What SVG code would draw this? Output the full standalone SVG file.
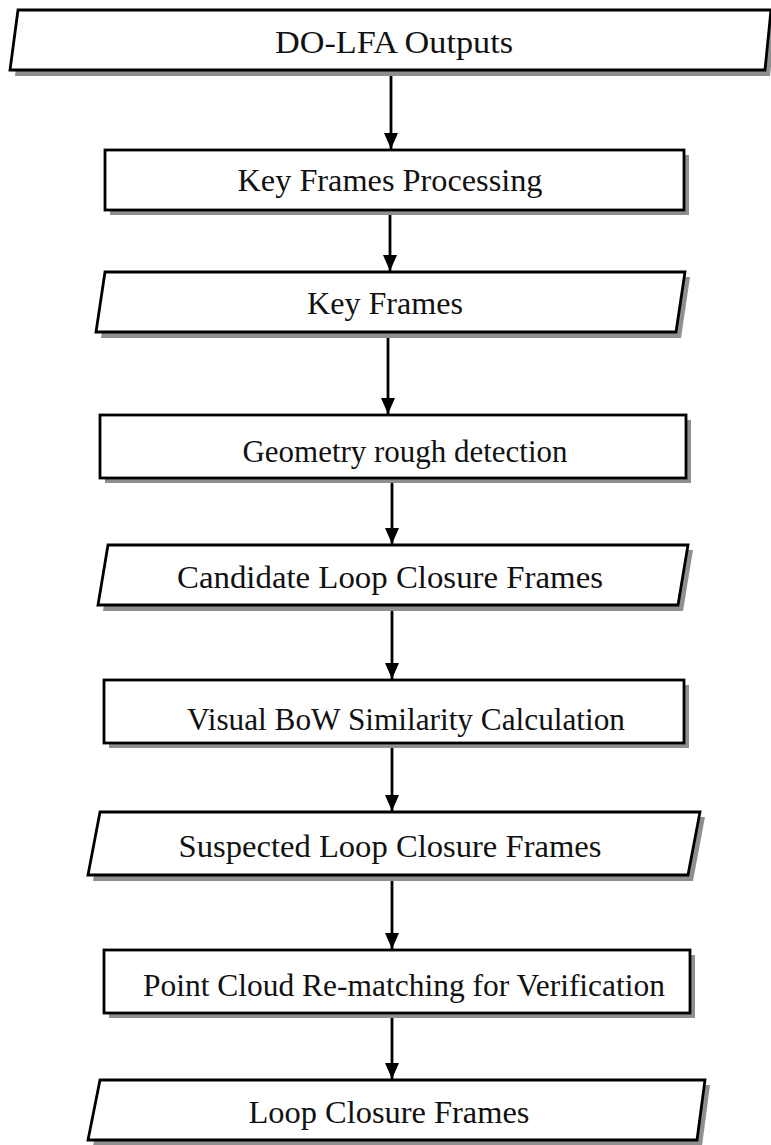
<svg xmlns="http://www.w3.org/2000/svg" width="771" height="1145" viewBox="0 0 771 1145">
<style>
.shape{fill:#fff;stroke:#000;stroke-width:2.8;stroke-linejoin:miter}
.shadow{fill:#8f8f8f;stroke:none}
.lbl{font-family:"Liberation Serif","Times New Roman",serif;font-size:31px;fill:#111;text-anchor:middle;dominant-baseline:central}
.edge{stroke:#000;stroke-width:2.8;fill:none}
</style>
<defs>
<marker id="ah" viewBox="0 0 16 14" refX="16" refY="7" markerWidth="16" markerHeight="14" markerUnits="userSpaceOnUse" orient="auto">
<path d="M0,0 L16,7 L0,14 Z" fill="#000"/>
</marker>
</defs>
<g id="connectors">
<line class="edge" x1="391" y1="71" x2="391" y2="149" marker-end="url(#ah)"/>
<line class="edge" x1="390" y1="211" x2="390" y2="271" marker-end="url(#ah)"/>
<line class="edge" x1="388" y1="333" x2="388" y2="414" marker-end="url(#ah)"/>
<line class="edge" x1="392" y1="479" x2="392" y2="544" marker-end="url(#ah)"/>
<line class="edge" x1="392" y1="606" x2="392" y2="679" marker-end="url(#ah)"/>
<line class="edge" x1="392" y1="744" x2="392" y2="811" marker-end="url(#ah)"/>
<line class="edge" x1="392" y1="876" x2="392" y2="949" marker-end="url(#ah)"/>
<line class="edge" x1="392" y1="1014" x2="392" y2="1079" marker-end="url(#ah)"/>
</g>
<g id="n1">
<polygon class="shadow" points="23,15 776,15 770,76 15,76"/>
<polygon class="shape" points="18,10 771,10 765,70 10,70"/>
<text class="lbl" x="394" y="42" textLength="238" lengthAdjust="spacingAndGlyphs">DO-LFA Outputs</text>
</g>
<g id="n2">
<rect class="shadow" x="110" y="155" width="579" height="60"/>
<rect class="shape" x="105" y="150" width="579" height="60"/>
<text class="lbl" x="390" y="180" textLength="305" lengthAdjust="spacingAndGlyphs">Key Frames Processing</text>
</g>
<g id="n3">
<polygon class="shadow" points="110,277 690,277 681,338 101,338"/>
<polygon class="shape" points="105,272 685,272 676,332 96,332"/>
<text class="lbl" x="385" y="303" textLength="156" lengthAdjust="spacingAndGlyphs">Key Frames</text>
</g>
<g id="n4">
<rect class="shadow" x="105" y="420" width="586" height="63"/>
<rect class="shape" x="100" y="415" width="586" height="63"/>
<text class="lbl" x="405" y="451" textLength="325" lengthAdjust="spacingAndGlyphs">Geometry rough detection</text>
</g>
<g id="n5">
<polygon class="shadow" points="113,550 693,550 683,611 103,611"/>
<polygon class="shape" points="108,545 688,545 678,605 98,605"/>
<text class="lbl" x="390" y="577" textLength="426" lengthAdjust="spacingAndGlyphs">Candidate Loop Closure Frames</text>
</g>
<g id="n6">
<rect class="shadow" x="109" y="685" width="580" height="63"/>
<rect class="shape" x="104" y="680" width="580" height="63"/>
<text class="lbl" x="406" y="719" textLength="438" lengthAdjust="spacingAndGlyphs">Visual BoW Similarity Calculation</text>
</g>
<g id="n7">
<polygon class="shadow" points="105,817 705,817 693,881 93,881"/>
<polygon class="shape" points="100,812 700,812 688,875 88,875"/>
<text class="lbl" x="390" y="846" textLength="423" lengthAdjust="spacingAndGlyphs">Suspected Loop Closure Frames</text>
</g>
<g id="n8">
<rect class="shadow" x="109" y="955" width="586" height="63"/>
<rect class="shape" x="104" y="950" width="586" height="63"/>
<text class="lbl" x="404" y="985" textLength="522" lengthAdjust="spacingAndGlyphs">Point Cloud Re-matching for Verification</text>
</g>
<g id="n9">
<polygon class="shadow" points="105,1085 710,1085 702,1146 93,1146"/>
<polygon class="shape" points="100,1080 705,1080 697,1140 88,1140"/>
<text class="lbl" x="389" y="1112" textLength="281" lengthAdjust="spacingAndGlyphs">Loop Closure Frames</text>
</g>
</svg>
